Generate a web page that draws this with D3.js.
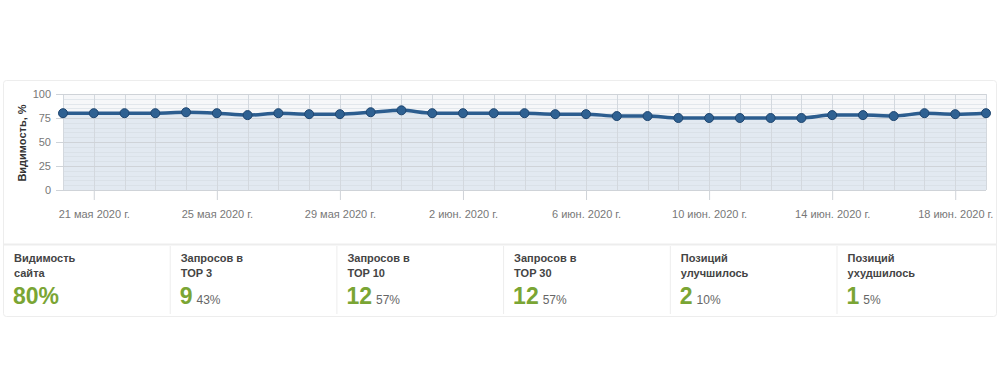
<!DOCTYPE html>
<html>
<head>
<meta charset="utf-8">
<script src="https://cdn.jsdelivr.net/npm/d3@7"></script>
<style>
  body { margin: 0; background: #fff; font-family: "Liberation Sans", Arial, sans-serif; }
  #wrap { position: relative; width: 1000px; height: 376px; }
</style>
</head>
<body>
<div id="wrap"><svg id="chart" width="1000" height="376"></svg></div>
<script>
// Visibility by day, 20 May – 19 June 2020
const dates = d3.timeDay.range(new Date(2020, 4, 20), new Date(2020, 5, 20));
const visibility = [80, 80, 80, 80, 81, 80, 78, 80, 79, 79, 81, 83,
                    80, 80, 80, 80, 79, 79, 77, 77, 75, 75, 75, 75, 75, 78, 78, 77, 80, 79, 80];
const yTicks = [0, 25, 50, 75, 100];
const monthNames = ['янв.', 'февр.', 'мар.', 'апр.', 'мая', 'июн.', 'июл.', 'авг.', 'сент.', 'окт.', 'нояб.', 'дек.'];

const statLabels = [['Видимость', 'сайта'], ['Запросов в', 'TOP 3'], ['Запросов в', 'TOP 10'],
                    ['Запросов в', 'TOP 30'], ['Позиций', 'улучшилось'], ['Позиций', 'ухудшилось']];
const statValues = ['80%', '9', '12', '12', '2', '1'];
const statShares = ['', '43%', '57%', '57%', '10%', '5%'];

const data = dates.map((d, i) => ({ date: d, value: visibility[i] }));

const FONT = '"Liberation Sans", Arial, sans-serif';
const svg = d3.select('#chart');
const M = { top: 94, left: 63, right: 14 };
const W = 1000 - M.left - M.right;
const H = 190 - M.top;

// card
svg.append('rect').attr('x', 3.5).attr('y', 80.5).attr('width', 993).attr('height', 236)
  .attr('rx', 3).attr('fill', '#fff').attr('stroke', '#ededed');

const x = d3.scaleTime().domain(d3.extent(dates)).range([0, W]);
const y = d3.scaleLinear().domain([0, 100]).range([H, 0]);

const g = svg.append('g').attr('transform', `translate(${M.left},${M.top})`);

g.append('rect').attr('width', W).attr('height', H).attr('fill', '#f6f7f9');

// area under the line
g.append('path').datum(data)
  .attr('fill', '#e2e9f1')
  .attr('d', d3.area().x(d => x(d.date)).y0(H).y1(d => y(d.value)).curve(d3.curveMonotoneX));

// minor grid
g.append('g').selectAll('line').data(d3.range(5, 100, 5).filter(v => v % 25))
  .join('line').attr('x1', 0).attr('x2', W)
  .attr('y1', d => Math.round(y(d)) + 0.5).attr('y2', d => Math.round(y(d)) + 0.5)
  .attr('stroke', '#d6dce3').attr('stroke-opacity', 0.6);

// vertical grid per day
g.append('g').selectAll('line').data(dates)
  .join('line')
  .attr('x1', d => Math.round(x(d)) + 0.5).attr('x2', d => Math.round(x(d)) + 0.5)
  .attr('y1', 0).attr('y2', H)
  .attr('stroke', '#d3d8de');

// major grid + y axis
const yAxis = g.append('g')
  .call(d3.axisLeft(y).tickValues(yTicks).tickSize(-W - 7).tickPadding(6));
yAxis.select('.domain').remove();
yAxis.selectAll('.tick line').attr('stroke', '#cfd3d8').attr('x1', -7).attr('x2', W);
yAxis.selectAll('.tick text').attr('x', -12).attr('fill', '#777').style('font-size', '11px')
  .style('font-family', FONT);

// x axis
const fmt = d => `${d.getDate()} ${monthNames[d.getMonth()]} 2020 г.`;
const xAxis = g.append('g').attr('transform', `translate(0,${H})`)
  .call(d3.axisBottom(x).tickValues(dates.filter((d, i) => i % 4 === 1)).tickFormat(fmt)
    .tickSize(10).tickPadding(10));
xAxis.select('.domain').remove();
xAxis.selectAll('.tick line').attr('stroke', '#cfd3d8');
xAxis.selectAll('.tick text').attr('fill', '#777').style('font-size', '11px')
  .style('font-family', FONT);

// axis title
svg.append('text').attr('transform', 'translate(26,143) rotate(-90)')
  .attr('text-anchor', 'middle').attr('fill', '#333')
  .style('font-size', '11px').style('font-weight', 'bold').style('font-family', FONT)
  .text('Видимость, %');

// line + points
g.append('path').datum(data)
  .attr('fill', 'none').attr('stroke', '#2c5d8f').attr('stroke-width', 3.5)
  .attr('d', d3.line().x(d => x(d.date)).y(d => y(d.value)).curve(d3.curveMonotoneX));

g.append('g').selectAll('circle').data(data).join('circle')
  .attr('cx', d => x(d.date)).attr('cy', d => y(d.value)).attr('r', 4.5)
  .attr('fill', '#2f6192').attr('stroke', '#1f4670').attr('stroke-width', 1);

// stats row
svg.append('line').attr('x1', 4).attr('x2', 996).attr('y1', 244.5).attr('y2', 244.5)
  .attr('stroke', '#ededed').attr('stroke-width', 2);

const cellW = 166.7;
const cells = svg.append('g').selectAll('g').data(statLabels).join('g')
  .attr('transform', (d, i) => `translate(${3 + i * cellW},0)`);

cells.filter((d, i) => i > 0).append('line')
  .attr('x1', 0.5).attr('x2', 0.5).attr('y1', 246).attr('y2', 314).attr('stroke', '#ededed');

cells.each(function(lines, i) {
  const c = d3.select(this);
  lines.forEach((t, k) => c.append('text').attr('x', 11).attr('y', 262 + k * 15)
    .attr('fill', '#444').style('font-size', '11px').style('font-weight', 'bold')
    .style('font-family', FONT).text(t));
  const v = c.append('text').attr('x', 10).attr('y', 304).style('font-family', FONT);
  v.append('tspan').attr('fill', '#7aa534').style('font-size', '23px').style('font-weight', 'bold')
    .text(statValues[i]);
  if (statShares[i]) {
    v.append('tspan').attr('dx', 4).attr('fill', '#666').style('font-size', '12px').text(statShares[i]);
  }
});
</script>
</body>
</html>
